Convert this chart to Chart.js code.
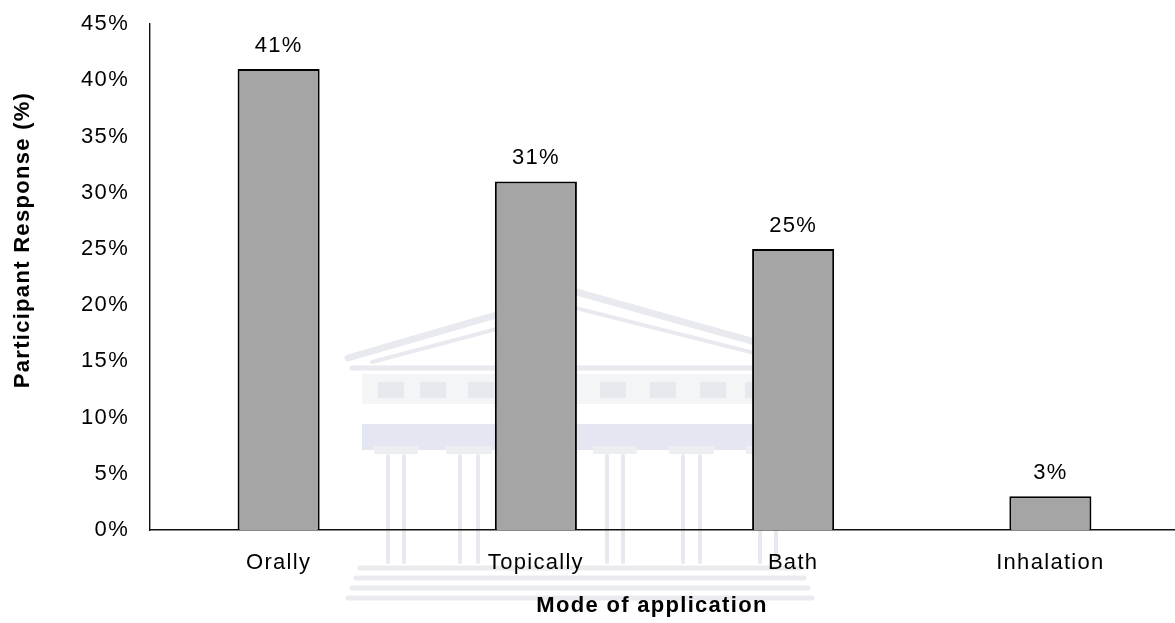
<!DOCTYPE html>
<html>
<head>
<meta charset="utf-8">
<script src="https://cdn.jsdelivr.net/npm/chart.js@4"></script>
<style>
  html, body { margin: 0; padding: 0; background: #fff; overflow: hidden; }
  #wrap { width: 1175px; height: 623px; overflow: hidden; }
</style>
</head>
<body>
<div id="wrap"><canvas id="modeChart" width="1179" height="623"></canvas></div>
<script>
var modes = ["Orally", "Topically", "Bath", "Inhalation"];
var responses = [41, 31, 25, 3];
var yTicks = [0, 5, 10, 15, 20, 25, 30, 35, 40, 45];

var FONT = "'Liberation Sans', Arial, sans-serif";

// faint building watermark, drawn first so axes, text and bars sit on top
var watermark = {
  id: "watermark",
  beforeDraw: function (chart) {
    var c = chart.ctx;
    c.letterSpacing = "1.3px";
    c.save();
    c.lineCap = "round";
    // pediment
    c.strokeStyle = "#e9eaef";
    c.lineWidth = 7;
    c.beginPath();
    c.moveTo(348, 358); c.lineTo(576, 292); c.lineTo(812, 358);
    c.stroke();
    c.lineWidth = 4;
    c.beginPath();
    c.moveTo(372, 362); c.lineTo(576, 308); c.lineTo(790, 362);
    c.stroke();
    c.lineWidth = 5;
    c.beginPath();
    c.moveTo(352, 368); c.lineTo(812, 368);
    c.stroke();
    // frieze with windows
    c.fillStyle = "#f4f5f7";
    c.fillRect(362, 374, 450, 30);
    c.fillStyle = "#e8e9ee";
    [378, 420, 468, 520, 600, 650, 700, 745].forEach(function (x) {
      c.fillRect(x, 382, 26, 16);
    });
    // architrave band
    c.fillStyle = "#e4e7f2";
    c.fillRect(362, 424, 450, 26);
    // columns
    c.strokeStyle = "#e8e9ef";
    c.lineWidth = 4;
    [[388, 404], [460, 478], [607, 623], [683, 700], [760, 776]].forEach(function (p) {
      c.fillStyle = "#eceef2";
      c.fillRect(p[0] - 14, 446, p[1] - p[0] + 28, 8);
      p.forEach(function (x) {
        c.beginPath(); c.moveTo(x, 456); c.lineTo(x, 562); c.stroke();
      });
    });
    // steps
    c.strokeStyle = "#eaebef";
    c.lineWidth = 5;
    [568, 578, 588, 598].forEach(function (y, i) {
      c.beginPath(); c.moveTo(360 - i * 4, y); c.lineTo(800 + i * 4, y); c.stroke();
    });
    c.restore();
  }
};

// value labels above the bars and the two axis titles
var labelsAndTitles = {
  id: "labelsAndTitles",
  afterDraw: function (chart) {
    var c = chart.ctx;
    c.save();
    c.fillStyle = "#000";
    c.textAlign = "center";
    c.textBaseline = "middle";
    c.font = "22px " + FONT;
    chart.getDatasetMeta(0).data.forEach(function (bar, i) {
      c.fillText(responses[i] + "%", bar.x, bar.y - 23);
    });
    c.font = "bold 22px " + FONT;
    c.fillText("Mode of application", 652, 606);
    c.translate(23, 240);
    c.rotate(-Math.PI / 2);
    c.fillText("Participant Response (%)", 0, 0);
    c.restore();
  }
};

var ctx = document.getElementById("modeChart").getContext("2d");
var modeChart = new Chart(ctx, {
  type: "bar",
  data: {
    labels: modes,
    datasets: [
      {
        data: responses,
        backgroundColor: "#a5a5a5",
        borderColor: "#000",
        borderWidth: 2,
        categoryPercentage: 1,
        barPercentage: 0.319,
      },
    ],
  },
  options: {
    responsive: false,
    animation: false,
    layout: { padding: { top: 24, right: 0, left: 0, bottom: 0 } },
    plugins: {
      legend: { display: false },
      tooltip: { enabled: false },
    },
    scales: {
      x: {
        grid: { display: false, drawTicks: false },
        border: { color: "#111", width: 1.4 },
        ticks: { color: "#000", font: { family: FONT, size: 22 }, padding: 20 },
        afterFit: function (s) { s.height = 93; },
      },
      y: {
        min: 0,
        max: 45,
        afterBuildTicks: function (s) {
          s.ticks = yTicks.map(function (v) { return { value: v }; });
        },
        grid: { display: false, drawTicks: false },
        border: { color: "#111", width: 1.4 },
        ticks: {
          color: "#000",
          font: { family: FONT, size: 22 },
          padding: 21,
          callback: function (v) { return v + "%"; },
        },
        afterFit: function (s) {
          s.width = 150;
          s.paddingTop = 0;
          s.paddingBottom = 0;
        },
      },
    },
  },
  plugins: [watermark, labelsAndTitles],
});
</script>
</body>
</html>
